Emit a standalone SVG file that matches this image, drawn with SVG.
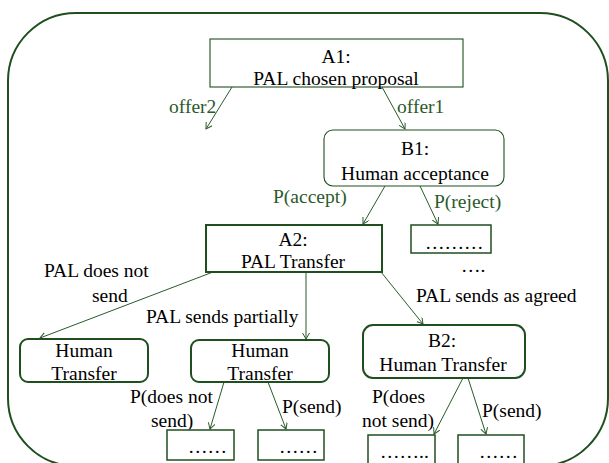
<svg xmlns="http://www.w3.org/2000/svg" width="609" height="463" viewBox="0 0 609 463">
<style>
text{font-family:"Liberation Serif","Times New Roman",Times,serif;font-size:19.5px;fill:#000}
.g{fill:#2a5a2a}
.m{text-anchor:middle}
.thin{fill:#fff;stroke:#1f4f1f;stroke-width:1.1}
.thick{fill:#fff;stroke:#1f4f1f;stroke-width:2}
.c line{stroke:#2a5a2a;stroke-width:1;marker-end:url(#ah)}
</style>
<defs>
<marker id="ah" markerUnits="userSpaceOnUse" markerWidth="8" markerHeight="8" refX="6" refY="3.5" orient="auto">
<path d="M0,0 L6,3.5 L0,7" fill="none" stroke="#2a5a2a" stroke-width="1"/>
</marker>
</defs>
<rect x="8" y="13" width="600" height="453" rx="68" ry="68" fill="#fff" stroke="#1f4f1f" stroke-width="2"/>
<g class="c">
<line x1="232" y1="87" x2="206" y2="129"/>
<line x1="382" y1="87" x2="405" y2="129"/>
<line x1="385" y1="186" x2="363" y2="224"/>
<line x1="420" y1="186" x2="438" y2="224"/>
<line x1="213" y1="272" x2="40" y2="338"/>
<line x1="306" y1="272" x2="306" y2="339"/>
<line x1="381" y1="272" x2="423" y2="324"/>
<line x1="224" y1="382" x2="210" y2="429"/>
<line x1="268" y1="382" x2="286" y2="429"/>
<line x1="463" y1="378" x2="434" y2="434"/>
<line x1="468" y1="378" x2="486" y2="434"/>
</g>
<g id="labels">
<text class="g" x="169" y="113">offer2</text>
<text class="g" x="397" y="113">offer1</text>
<text class="g" x="273" y="203">P(accept)</text>
<text class="g" x="434" y="208">P(reject)</text>
<text x="44" y="277">PAL does not</text>
<text x="92" y="302">send</text>
<text x="146" y="323">PAL sends partially</text>
<text x="416" y="302">PAL sends as agreed</text>
<text x="130" y="403">P(does not</text>
<text x="151" y="427">send)</text>
<text x="282" y="413">P(send)</text>
<text x="372" y="403">P(does</text>
<text x="362" y="427">not send)</text>
<text x="482" y="417">P(send)</text>
</g>
<g id="A1">
<rect class="thin" x="210" y="39" width="253" height="48"/>
<text class="m" x="336" y="63">A1:</text>
<text class="m" x="336" y="85">PAL chosen proposal</text>
</g>
<g id="B1">
<rect class="thin" x="324" y="130" width="180" height="56" rx="9"/>
<text class="m" x="415" y="155">B1:</text>
<text class="m" x="415" y="180">Human acceptance</text>
</g>
<g id="A2">
<rect class="thick" x="206" y="225" width="176" height="47"/>
<text class="m" x="293" y="246">A2:</text>
<text class="m" x="293" y="268">PAL Transfer</text>
</g>
<g id="R1">
<rect class="thin" x="411" y="225" width="80" height="28" style="stroke-width:1.5"/>
<text x="425" y="249">………</text>
</g>
<text x="461" y="272">….</text>
<g id="H1">
<rect class="thick" x="20" y="339" width="128" height="43" rx="8"/>
<text class="m" x="84" y="357">Human</text>
<text class="m" x="84" y="380">Transfer</text>
</g>
<g id="H2">
<rect class="thick" x="191" y="340" width="138" height="42" rx="8"/>
<text class="m" x="260" y="357">Human</text>
<text class="m" x="260" y="380">Transfer</text>
</g>
<g id="B2">
<rect class="thick" x="363" y="325" width="162" height="53" rx="10"/>
<text class="m" x="442" y="347">B2:</text>
<text class="m" x="443" y="371">Human Transfer</text>
</g>
<g id="L1">
<rect class="thin" x="167" y="430" width="67" height="30" style="stroke-width:1.5"/>
<text x="188" y="453">……</text>
</g>
<g id="L2">
<rect class="thin" x="258" y="430" width="66" height="30" style="stroke-width:1.5"/>
<text x="279" y="453">……</text>
</g>
<g id="L3">
<rect class="thin" x="368" y="435" width="67" height="30" style="stroke-width:1.5"/>
<text x="380" y="458">……..</text>
</g>
<g id="L4">
<rect class="thin" x="458" y="435" width="66" height="30" style="stroke-width:1.5"/>
<text x="479" y="458">……</text>
</g>
</svg>
